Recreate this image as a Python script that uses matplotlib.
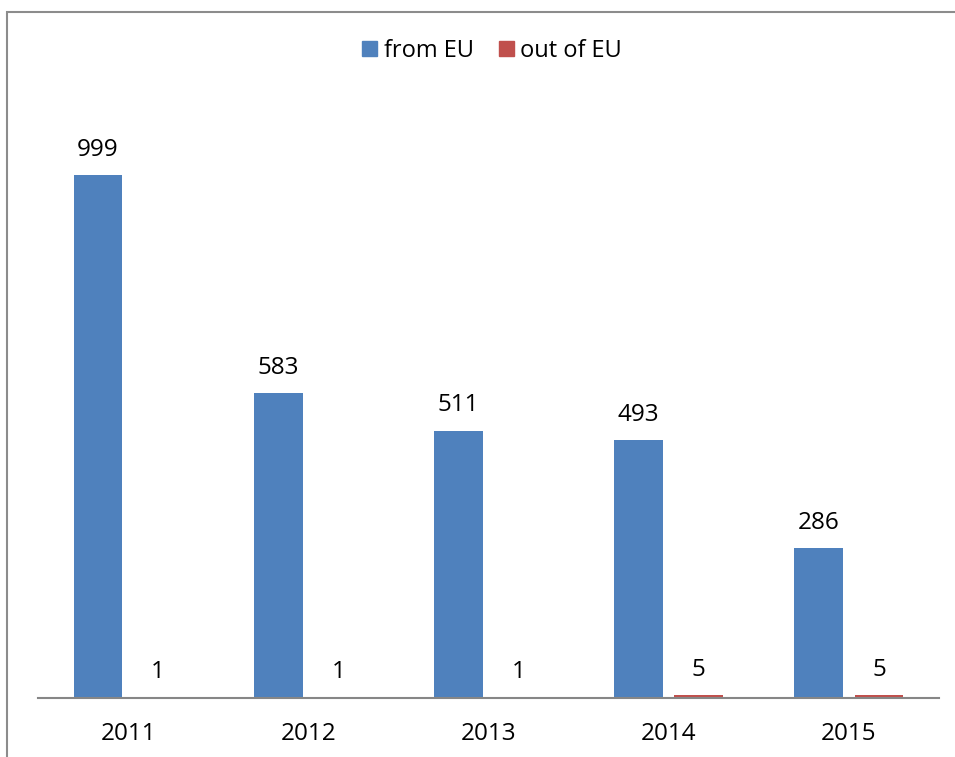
import numpy as np
import matplotlib.pyplot as plt
from matplotlib.patches import Rectangle, Patch

years = ['2011', '2012', '2013', '2014', '2015']
from_eu = [999, 583, 511, 493, 286]
out_of_eu = [1, 1, 1, 5, 5]

blue = '#4F81BD'
red = '#C0504D'

plt.rcParams['font.family'] = ['Open Sans', 'DejaVu Sans']

fig = plt.figure(figsize=(9.55, 7.57), dpi=100)
ax = fig.add_axes([38 / 955, 59 / 757, 901 / 955, 628 / 757])

x = np.arange(len(years))
w = 0.27
off = 0.167
b1 = ax.bar(x - off, from_eu, w, color=blue)
b2 = ax.bar(x + off, out_of_eu, w, color=red)

for bars, vals in ((b1, from_eu), (b2, out_of_eu)):
    for b, v in zip(bars, vals):
        ax.annotate(str(v), (b.get_x() + b.get_width() / 2, v),
                    xytext=(0, 9.5), textcoords='offset points',
                    ha='center', va='bottom', fontsize=17.5)

ax.set_xlim(-0.5, 4.5)
ax.set_ylim(0, 1200)
ax.set_xticks(x)
ax.set_xticklabels(years, fontsize=17.5)
ax.tick_params(axis='x', length=0, pad=17)
ax.set_yticks([])
for s in ('top', 'right', 'left'):
    ax.spines[s].set_visible(False)
ax.spines['bottom'].set_color('#868686')
ax.spines['bottom'].set_linewidth(1.5)

# chart frame, cut off on the right and bottom
fig.add_artist(Rectangle((7 / 955, -0.1), 1.2, 1.1 - 12 / 757,
                         transform=fig.transFigure, fill=False,
                         edgecolor='#8c8c8c', linewidth=1.5, clip_on=False))

handles = [Patch(color=blue, label='from EU'), Patch(color=red, label='out of EU')]
fig.legend(handles=handles, loc='center', bbox_to_anchor=(492 / 955, 1 - 51 / 757),
           ncol=2, frameon=False, fontsize=17, handlelength=0.64,
           handleheight=0.62, handletextpad=0.28, columnspacing=1.05,
           borderaxespad=0, borderpad=0)

fig.savefig('out.png', dpi=100)
